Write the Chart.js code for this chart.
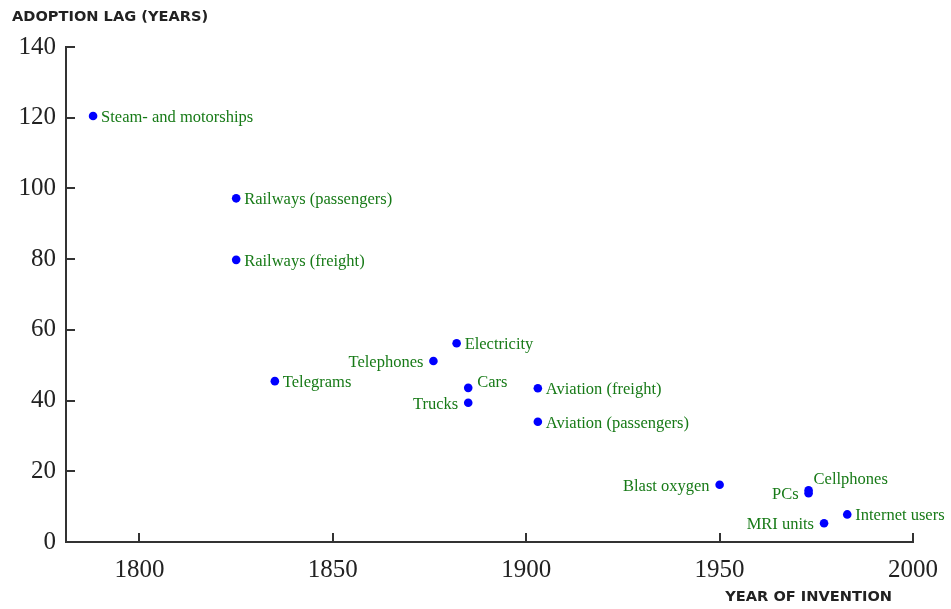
<!DOCTYPE html>
<html>
<head>
<meta charset="utf-8">
<title>Adoption lag by year of invention</title>
<script src="https://cdn.jsdelivr.net/npm/chart.js@4/dist/chart.umd.min.js"></script>
<style>
  html, body { margin: 0; padding: 0; background: #fff; }
  #wrap { width: 951px; height: 609px; }
</style>
</head>
<body>
<div id="wrap"><canvas id="lagChart" width="951" height="609"></canvas></div>
<script>
// Technologies, the year each was invented and how long adoption took
const techNames = [
    'Steam- and motorships', 'Railways (passengers)', 'Railways (freight)',
    'Telegrams', 'Telephones', 'Electricity', 'Cars', 'Trucks',
    'Aviation (freight)', 'Aviation (passengers)', 'Blast oxygen',
    'Cellphones', 'PCs', 'MRI units', 'Internet users'
];
const inventionYear = [1788, 1825, 1825, 1835, 1876, 1882, 1885, 1885, 1903, 1903, 1950, 1973, 1973, 1977, 1983];
const adoptionLag = [120.5, 97.2, 79.8, 45.5, 51.2, 56.2, 43.6, 39.4, 43.5, 34.0, 16.2, 14.6, 13.8, 5.3, 7.8];

const yearTicks = [1800, 1850, 1900, 1950, 2000];
const lagTicks = [0, 20, 40, 60, 80, 100, 120, 140];

// which side of the dot each name goes (default is right)
const labelSide = {
    'Telephones': 'left', 'Trucks': 'left', 'Blast oxygen': 'left',
    'PCs': 'left', 'MRI units': 'left',
    'Cars': 'above', 'Cellphones': 'above'
};

const axisColor = '#333';
const labelGreen = '#177a17';

// inward tick marks, point names and the two axis captions
const decorPlugin = {
    id: 'decor',
    afterDraw(chart) {
        const ctx = chart.ctx;
        const area = chart.chartArea;
        const xs = chart.scales.x;
        const ys = chart.scales.y;

        ctx.save();
        ctx.strokeStyle = axisColor;
        ctx.lineWidth = 2;
        ctx.beginPath();
        lagTicks.forEach(v => {
            const py = Math.round(ys.getPixelForValue(v));
            ctx.moveTo(area.left, py);
            ctx.lineTo(area.left + 9, py);
        });
        yearTicks.forEach(v => {
            const px = Math.round(xs.getPixelForValue(v));
            ctx.moveTo(px, area.bottom);
            ctx.lineTo(px, area.bottom - 9);
        });
        ctx.stroke();

        // names next to the points
        ctx.font = '16.5px "Liberation Serif", serif';
        ctx.fillStyle = labelGreen;
        ctx.textBaseline = 'middle';
        const pts = chart.getDatasetMeta(0).data;
        pts.forEach((pt, i) => {
            const name = techNames[i];
            const side = labelSide[name] || 'right';
            const y = pt.y + 1.5;
            if (side === 'left') {
                ctx.textAlign = 'right';
                ctx.fillText(name, pt.x - 10, y);
            } else if (side === 'above') {
                ctx.textAlign = 'left';
                const dy = name === 'Cellphones' ? -12 : -7;
                const dx = name === 'Cellphones' ? 5 : 9;
                ctx.fillText(name, pt.x + dx, y + dy);
            } else {
                ctx.textAlign = 'left';
                ctx.fillText(name, pt.x + 8, y);
            }
        });

        // axis captions
        ctx.font = 'bold 14.6px "DejaVu Sans", sans-serif';
        ctx.fillStyle = '#222';
        ctx.textAlign = 'left';
        ctx.fillText('ADOPTION LAG (YEARS)', 12, 17);
        ctx.textAlign = 'right';
        ctx.fillText('YEAR OF INVENTION', xs.getPixelForValue(2000) - 21, 597);
        ctx.restore();
    }
};

new Chart(document.getElementById('lagChart'), {
    type: 'scatter',
    data: {
        datasets: [{
            data: inventionYear.map((yr, i) => ({ x: yr, y: adoptionLag[i] })),
            backgroundColor: '#0000ff',
            borderWidth: 0,
            pointRadius: 4.3,
            pointHoverRadius: 4.3
        }]
    },
    options: {
        responsive: false,
        animation: false,
        events: [],
        layout: { padding: { left: 0, top: 47, right: 37, bottom: 0 } },
        plugins: {
            legend: { display: false },
            tooltip: { enabled: false }
        },
        scales: {
            x: {
                type: 'linear',
                min: 1781,
                max: 2000,
                afterBuildTicks: scale => { scale.ticks = yearTicks.map(v => ({ value: v })); },
                afterFit: scale => { scale.height = 67; },
                grid: { display: false, drawTicks: false },
                border: { display: true, color: axisColor, width: 2 },
                ticks: {
                    padding: 13,
                    color: '#222',
                    maxRotation: 0,
                    callback: v => String(v),
                    font: { family: '"Liberation Serif", serif', size: 25 }
                }
            },
            y: {
                min: 0,
                max: 140,
                afterBuildTicks: scale => { scale.ticks = lagTicks.map(v => ({ value: v })); },
                afterFit: scale => { scale.width = 66; },
                grid: { display: false, drawTicks: false },
                border: { display: true, color: axisColor, width: 2 },
                ticks: {
                    padding: 10,
                    color: '#222',
                    callback: v => String(v),
                    font: { family: '"Liberation Serif", serif', size: 25 }
                }
            }
        }
    },
    plugins: [decorPlugin]
});
</script>
</body>
</html>
